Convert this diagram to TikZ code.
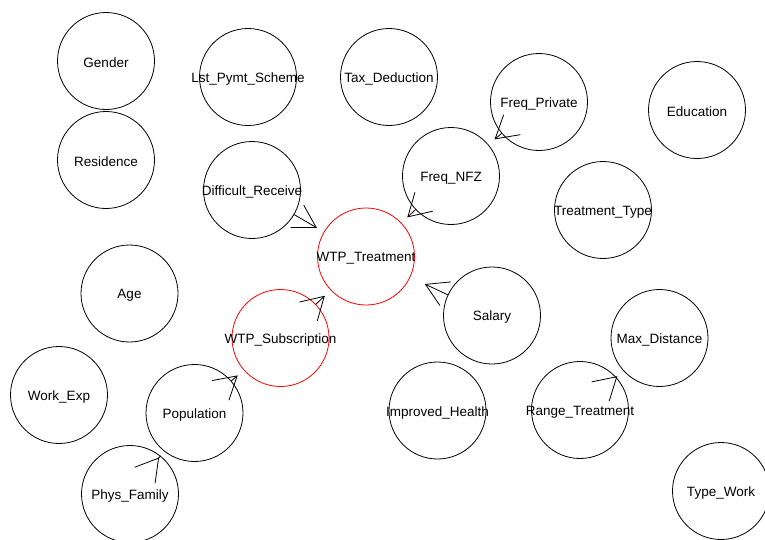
\documentclass[tikz,border=0pt]{standalone}
\usepackage{fontspec}
\setmainfont{Liberation Sans}
\definecolor{netred}{RGB}{255, 0, 0}
\usepackage{tikz}
\usetikzlibrary{arrows.meta, shapes}

\tikzset{
  var/.style={circle, draw, line width=0.8pt, minimum size=97pt, inner sep=0pt},
  target/.style={var, draw=netred},
  every label/.style={font=\fontsize{13.5}{15}\selectfont, inner sep=0pt, yshift=-2pt},
  link/.style={line width=0.8pt, -{Straight Barb[length=22pt, width=26pt, line width=0.8pt]},
    shorten >=8pt}
}

\begin{document}
\begin{tikzpicture}[x=1pt, y=-1pt]
  \useasboundingbox (0, 0) rectangle (765, 539);

  \node[var, label=center:Gender] (gender) at (106, 61) {};
  \node[var, label=center:Lst\_Pymt\_Scheme] (lstpymt) at (248, 77) {};
  \node[var, label=center:Tax\_Deduction] (taxded) at (389, 77) {};
  \node[var, label=center:Freq\_Private] (freqpriv) at (539, 102) {};
  \node[var, label=center:Education] (educ) at (697, 110) {};
  \node[var, label=center:Residence] (resid) at (106, 160) {};
  \node[var, label=center:Difficult\_Receive] (diffrec) at (252, 190) {};
  \node[var, label=center:Freq\_NFZ] (freqnfz) at (451, 176) {};
  \node[var, label=center:Treatment\_Type] (treattype) at (603, 210) {};
  \node[target, label=center:WTP\_Treatment] (wtptreat) at (366, 256.5) {};
  \node[var, label=center:Age] (age) at (129.5, 293.5) {};
  \node[var, label=center:Salary] (salary) at (492, 315.5) {};
  \node[target, label=center:WTP\_Subscription] (wtpsub) at (280.5, 338) {};
  \node[var, label=center:Max\_Distance] (maxdist) at (659.5, 338) {};
  \node[var, label=center:Work\_Exp] (workexp) at (59, 395) {};
  \node[var, label=center:Population] (popul) at (194.5, 413) {};
  \node[var, label=center:Improved\_Health] (imphealth) at (437.5, 410.5) {};
  \node[var, label=center:Range\_Treatment] (rangetreat) at (580, 410) {};
  \node[var, label=center:Phys\_Family] (physfam) at (130, 494) {};
  \node[var, label=center:Type\_Work] (typework) at (721, 491) {};

  \draw[link] (diffrec) -- (wtptreat);
  \draw[link] (freqnfz) -- (wtptreat);
  \draw[link, shorten >=16pt] (salary) -- (wtptreat);
  \draw[link] (wtpsub) -- (wtptreat);
  \draw[link] (popul) -- (wtpsub);
  \draw[link] (physfam) -- (popul);
  \draw[link] (rangetreat) -- (maxdist);
  \draw[link] (freqpriv) -- (freqnfz);
\end{tikzpicture}
\end{document}
